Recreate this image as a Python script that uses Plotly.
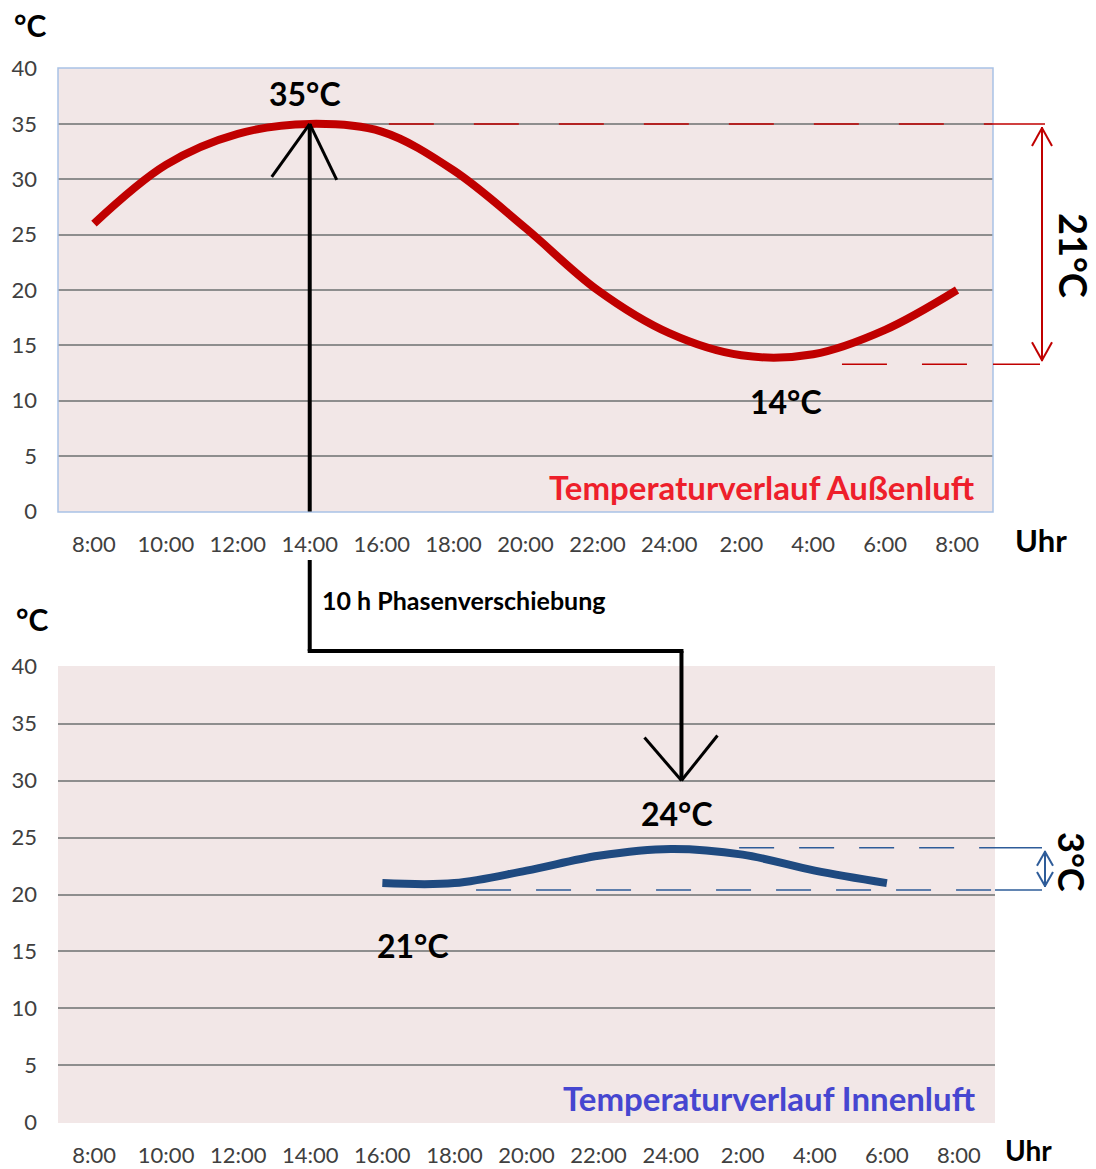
import plotly.graph_objects as go

# ---------------- data ----------------
hours = ["8:00", "10:00", "12:00", "14:00", "16:00", "18:00", "20:00",
         "22:00", "24:00", "2:00", "4:00", "6:00", "8:00"]
outdoor_temp = [26.0, 31.3, 34.1, 35.0, 34.3, 30.8, 25.6, 20.0, 16.1, 14.1, 14.2, 16.4, 20.0]
indoor_hours = ["16:00", "18:00", "20:00", "22:00", "24:00", "2:00", "4:00", "6:00"]
indoor_temp = [21.0, 21.0, 22.1, 23.4, 24.0, 23.5, 22.1, 21.0]
y_ticks = [0, 5, 10, 15, 20, 25, 30, 35, 40]

out_max, out_min_line = 35, 13.3
in_max_line, in_min_line = 24.1, 20.4

# ---------------- layout helpers ----------------
OFF = 8                      # page body margin of the html page
W, H = 1096 - OFF, 1169 - OFF
FONT = "Lato"
x_idx = list(range(len(hours)))
indoor_start = hours.index(indoor_hours[0])
indoor_idx = list(range(indoor_start, indoor_start + len(indoor_temp)))

TOP_X, TOP_Y = (58, 993), (68, 512)
BOT_X, BOT_Y = (58, 995), (666, 1123)
XR, YR = (-0.5, 12.5), (-0.05, 40.05)


def pxx(v):
    return (v - OFF) / W


def pxy(v):
    return 1 - (v - OFF) / H


def to_px(xv, yv, dx, dy):
    X = dx[0] + (xv - XR[0]) / (XR[1] - XR[0]) * (dx[1] - dx[0])
    Y = dy[1] - (yv - YR[0]) / (YR[1] - YR[0]) * (dy[1] - dy[0])
    return X, Y


fig = go.Figure()

fig.add_trace(go.Scatter(
    x=x_idx, y=outdoor_temp, mode="lines", line=dict(color="#C00000", width=8, shape="spline", smoothing=1.0),
    xaxis="x", yaxis="y", hoverinfo="skip", showlegend=False))
fig.add_trace(go.Scatter(
    x=indoor_idx, y=indoor_temp, mode="lines", line=dict(color="#1F4A80", width=8, shape="spline", smoothing=1.0),
    xaxis="x2", yaxis="y2", hoverinfo="skip", showlegend=False))

tickfont = dict(family=FONT, size=22, color="#404040")
common_x = dict(range=list(XR), tickmode="array", tickvals=x_idx, ticktext=hours, showgrid=False,
                zeroline=False, showline=False, ticks="", tickfont=tickfont, automargin=False,
                ticklabelstandoff=17, fixedrange=True)
common_y = dict(range=list(YR), tickmode="array", tickvals=y_ticks, showgrid=True, gridcolor="#8E8E8E",
                gridwidth=1.6, zeroline=False, showline=False, ticks="", tickfont=tickfont,
                automargin=False, ticklabelstandoff=20, fixedrange=True)

fig.update_layout(
    width=W, height=H,
    margin=dict(l=0, r=0, t=0, b=0),
    paper_bgcolor="white",
    plot_bgcolor="#F2E7E7",
    xaxis=dict(domain=[pxx(TOP_X[0]), pxx(TOP_X[1])], anchor="y", **common_x),
    yaxis=dict(domain=[pxy(TOP_Y[1]), pxy(TOP_Y[0])], anchor="x", **common_y),
    xaxis2=dict(domain=[pxx(BOT_X[0]), pxx(BOT_X[1])], anchor="y2", **common_x),
    yaxis2=dict(domain=[pxy(BOT_Y[1]), pxy(BOT_Y[0])], anchor="x2", **common_y),
    showlegend=False,
)

RED = "#C00000"
BLUE = "#2E5C99"


def seg(x0, y0, x1, y1, color, width):
    return dict(type="line", xref="paper", yref="paper", x0=pxx(x0), y0=pxy(y0), x1=pxx(x1), y1=pxy(y1),
                line=dict(color=color, width=width), layer="above")


def head(tx, ty, arms, color, width):
    return [seg(tx, ty, tx + ax, ty + ay, color, width) for ax, ay in arms]


shapes = []
# light blue frame around the upper plot area
shapes.append(dict(type="rect", xref="paper", yref="paper", x0=pxx(TOP_X[0]), x1=pxx(TOP_X[1]),
                   y0=pxy(TOP_Y[1]), y1=pxy(TOP_Y[0]), line=dict(color="#A9C2E6", width=1.5), layer="above"))

# red reference lines
shapes.append(dict(type="line", xref="x", yref="y", x0=4.1, x1=12.5, y0=out_max, y1=out_max,
                   line=dict(color=RED, width=1.5, dash="45px,40px"), layer="above"))
shapes.append(dict(type="line", xref="x", yref="y", x0=10.4, x1=12.5, y0=out_min_line, y1=out_min_line,
                   line=dict(color=RED, width=1.5, dash="45px,35px"), layer="above"))
# blue reference lines
shapes.append(dict(type="line", xref="x2", yref="y2", x0=8.95, x1=12.5, y0=in_max_line, y1=in_max_line,
                   line=dict(color=BLUE, width=1.5, dash="35px,25px"), layer="above"))
shapes.append(dict(type="line", xref="x2", yref="y2", x0=5.3, x1=12.5, y0=in_min_line, y1=in_min_line,
                   line=dict(color=BLUE, width=1.5, dash="35px,25px"), layer="above"))

# extensions outside plot
_, y_hi = to_px(0, out_max, TOP_X, TOP_Y)
_, y_lo = to_px(0, out_min_line, TOP_X, TOP_Y)
_, yb_hi = to_px(0, in_max_line, BOT_X, BOT_Y)
_, yb_lo = to_px(0, in_min_line, BOT_X, BOT_Y)
shapes.append(seg(993, y_hi, 1045, y_hi, RED, 1.5))
shapes.append(seg(993, y_lo, 1040, y_lo, RED, 1.5))
shapes.append(seg(995, yb_hi, 1042, yb_hi, BLUE, 1.5))
shapes.append(seg(995, yb_lo, 1042, yb_lo, BLUE, 1.5))

# double arrow 21 °C
ax_r = 1042
shapes.append(seg(ax_r, y_hi + 3, ax_r, y_lo - 3, RED, 2))
shapes += head(ax_r, y_hi + 4, [(-10, 18), (10, 18)], RED, 2)
shapes += head(ax_r, y_lo - 4, [(-10, -18), (10, -18)], RED, 2)

# double arrow 3 °C
ax_b = 1045
shapes.append(seg(ax_b, yb_hi + 3, ax_b, yb_lo - 3, BLUE, 2))
shapes += head(ax_b, yb_hi + 4, [(-8, 14), (8, 14)], BLUE, 2)
shapes += head(ax_b, yb_lo - 4, [(-8, -14), (8, -14)], BLUE, 2)

# black phase-shift arrow
peak_x = outdoor_temp.index(max(outdoor_temp))
X0, Ytip = to_px(peak_x, max(outdoor_temp), TOP_X, TOP_Y)
_, Ybase = to_px(peak_x, 0, TOP_X, TOP_Y)
shapes.append(seg(X0, Ybase, X0, Ytip, "black", 4))
shapes += head(X0, Ytip, [(-38, 53), (27, 56)], "black", 3)
X1, Ytip2 = to_px(8.15, 30, BOT_X, BOT_Y)
shapes.append(seg(X0, 560, X0, 651, "black", 4))
shapes.append(seg(X0 - 2, 651, X1 + 2, 651, "black", 4))
shapes.append(seg(X1, 651, X1, Ytip2, "black", 4))
shapes += head(X1, Ytip2, [(-37, -43), (36, -45)], "black", 3)

fig.update_layout(shapes=shapes)

ann = []


def txt(text, x, y, size, color="black", xanchor="center", angle=0, bold=True):
    ann.append(dict(text=f"<b>{text}</b>" if bold else text, x=pxx(x), y=pxy(y), xref="paper", yref="paper",
                    xanchor=xanchor, yanchor="middle", showarrow=False, textangle=angle,
                    font=dict(family=FONT, size=size, color=color)))


txt("°C", 30, 25, 30)
txt("°C", 32, 619, 30)
txt("Uhr", 1041, 540, 31)
txt("Uhr", 1028, 1150, 28)
txt("35°C", 305, 93, 32)
txt("14°C", 786, 401, 32)
txt("24°C", 677, 813, 32)
txt("21°C", 413, 945, 32)
txt("10 h Phasenverschiebung", 320, 600, 25, xanchor="left")
txt("Temperaturverlauf Außenluft", 977, 487, 33, color="#EE1F2B", xanchor="right")
txt("Temperaturverlauf Innenluft", 978, 1098, 33, color="#4646D0", xanchor="right")
txt("21°C", 1074, 255, 38, angle=90)
txt("3°C", 1072, 862, 36, angle=90)

fig.update_layout(annotations=ann)

fig.write_html("out.html")
